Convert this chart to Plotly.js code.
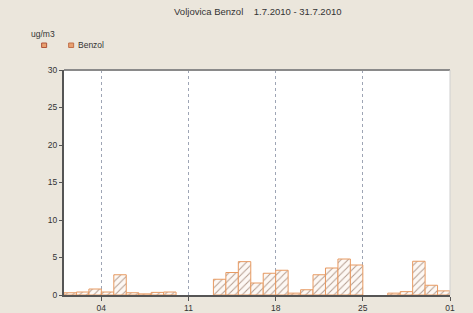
<!DOCTYPE html>
<html>
<head>
<meta charset="utf-8">
<script src="https://cdn.plot.ly/plotly-3.0.1.min.js"></script>
<style>html,body{margin:0;padding:0;background:#ebe6dc;}#chart{width:473px;height:313px;}</style>
</head>
<body>
<div id="chart"></div>
<script>
var days = ['2010-07-01','2010-07-02','2010-07-03','2010-07-04','2010-07-05','2010-07-06','2010-07-07','2010-07-08','2010-07-09','2010-07-10','2010-07-11','2010-07-12','2010-07-13','2010-07-14','2010-07-15','2010-07-16','2010-07-17','2010-07-18','2010-07-19','2010-07-20','2010-07-21','2010-07-22','2010-07-23','2010-07-24','2010-07-25','2010-07-26','2010-07-27','2010-07-28','2010-07-29','2010-07-30','2010-07-31'];
var benzol = [0.3,0.4,0.8,0.4,2.7,0.3,0.15,0.35,0.4,null,null,null,2.1,3.0,4.45,1.6,2.9,3.3,0.25,0.7,2.7,3.6,4.8,4.0,null,null,0.25,0.45,4.5,1.3,0.55];
var tickVals = ['2010-07-04','2010-07-11','2010-07-18','2010-07-25','2010-08-01'];
var tickText = ['04','11','18','25','01'];
var seriesName = 'Benzol';
var unit = 'ug/m3';
var titleText = 'Voljovica Benzol&nbsp;&nbsp;&nbsp;&nbsp;1.7.2010 - 31.7.2010';

var xNoon = days.map(function(d){ return d + ' 12:00'; });

var trace = {
  type: 'bar',
  x: xNoon,
  y: benzol,
  name: seriesName,
  width: 86400000,
  marker: {
    color: '#fbf4ee',
    line: {color: '#e79a62', width: 1},
    pattern: {shape: '/', fgcolor: '#b49d90', bgcolor: '#fdf8f4', size: 5, solidity: 0.2}
  },
  showlegend: false,
  hoverinfo: 'skip'
};

var layout = {
  width: 473, height: 313,
  margin: {l: 64, r: 23, t: 70, b: 18},
  paper_bgcolor: '#ebe6dc',
  plot_bgcolor: '#ffffff',
  font: {family: 'Liberation Sans, Arial, sans-serif', size: 8, color: '#333'},
  title: {text: titleText, font: {size: 9.5, color: '#333'}, x: 0.545, xanchor: 'center', y: 0.962, yanchor: 'middle'},
  bargap: 0,
  xaxis: {
    type: 'date',
    range: ['2010-07-01', '2010-08-01'],
    tickvals: tickVals, ticktext: tickText,
    showgrid: true, gridcolor: '#9ea5b5', griddash: 'dot', gridwidth: 1,
    showline: true, linecolor: '#555', linewidth: 2,
    ticks: 'outside', ticklen: 4, tickcolor: '#555',
    tickfont: {size: 8.5, color: '#333'},
    zeroline: false, fixedrange: true
  },
  yaxis: {
    range: [0, 30],
    tickvals: [0,5,10,15,20,25,30],
    showgrid: false,
    showline: true, linecolor: '#555', linewidth: 2,
    ticks: 'outside', ticklen: 3, tickcolor: '#555',
    tickfont: {size: 8.5, color: '#333'},
    zeroline: false, fixedrange: true
  },
  shapes: [
    {type: 'line', xref: 'paper', yref: 'paper', x0: 0, x1: 1, y0: 1, y1: 1, line: {color: '#8a8a8a', width: 2}},
    {type: 'line', xref: 'paper', yref: 'paper', x0: 1, x1: 1, y0: 0, y1: 1, line: {color: '#cfcfcf', width: 1}},
    {type: 'rect', xref: 'paper', yref: 'paper', x0: -0.058, x1: -0.045, y0: 1.1, y1: 1.12, fillcolor: '#e8a070', line: {color: '#b0553a', width: 1}},
    {type: 'rect', xref: 'paper', yref: 'paper', x0: 0.012, x1: 0.025, y0: 1.1, y1: 1.12, fillcolor: '#e8a070', line: {color: '#c0704a', width: 1}}
  ],
  annotations: [
    {text: unit, xref: 'paper', yref: 'paper', x: -0.09, y: 1.16, xanchor: 'left', yanchor: 'middle', showarrow: false, font: {size: 8.5, color: '#333'}},
    {text: seriesName, xref: 'paper', yref: 'paper', x: 0.032, y: 1.11, xanchor: 'left', yanchor: 'middle', showarrow: false, font: {size: 8.5, color: '#333'}}
  ]
};

Plotly.newPlot('chart', [trace], layout, {displayModeBar: false, staticPlot: true});
</script>
</body>
</html>
